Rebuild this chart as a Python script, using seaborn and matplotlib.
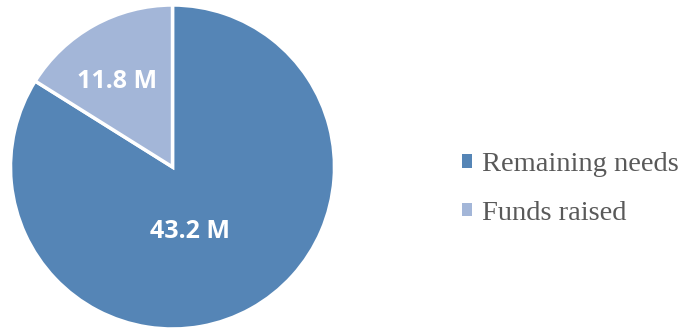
import matplotlib
matplotlib.use("Agg")
import matplotlib.pyplot as plt
import seaborn as sns

# Data
categories = ["Remaining needs", "Funds raised"]
shares = [83.9, 16.1]              # wedge sizes estimated from the drawn angles (%)
value_labels = ["43.2 M", "11.8 M"]
colors = ["#5585B6", "#A3B6D8"]

sns.set_theme(style="white")
plt.rcParams["font.family"] = ["DejaVu Sans"]

W, H = 686, 329
fig = plt.figure(figsize=(W / 100, H / 100), dpi=100)
fig.patch.set_facecolor("white")

cx, cy, r = 172.5, 167, 162
ax = fig.add_axes([(cx - r) / W, (H - cy - r) / H, 2 * r / W, 2 * r / H])
wedges, _ = ax.pie(shares, colors=colors, startangle=90, counterclock=False,
                   radius=1, wedgeprops=dict(edgecolor="white", linewidth=2.5))
ax.set_xlim(-1, 1)
ax.set_ylim(-1, 1)
ax.set_aspect("equal")
ax.axis("off")

# value labels (pixel positions converted to data coords)
label_px = [(190.5, 231), (117, 81)]
for (px, py), txt in zip(label_px, value_labels):
    x = (px - cx) / r
    y = (cy - py) / r
    ax.text(x, y, txt, ha="center", va="center", color="white",
            fontsize=18, fontweight="bold", family=["Open Sans", "DejaVu Sans"])

leg = fig.legend(wedges, categories, loc="center left",
                 bbox_to_anchor=(436.5 / W, 1 - 189 / H), frameon=False,
                 handlelength=0.35, handleheight=0.35, handletextpad=0.34,
                 labelspacing=0.83,
                 prop=dict(family=["Liberation Serif", "DejaVu Serif"], size=20.5))
for t in leg.get_texts():
    t.set_color("#595959")
for h in leg.legend_handles:
    h.set_edgecolor("none")

fig.savefig("out.png", dpi=100, facecolor="white")
